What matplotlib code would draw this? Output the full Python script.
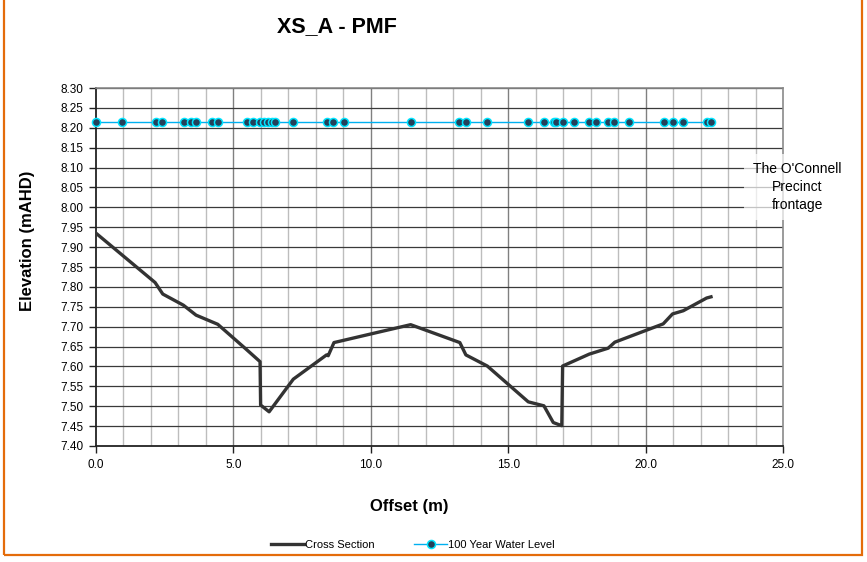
import numpy as np
import matplotlib
matplotlib.use("Agg")
import matplotlib.pyplot as plt
from matplotlib.patches import Rectangle

plt.rcParams['font.family'] = ['Liberation Sans', 'DejaVu Sans']

# cross section (offset m, elevation mAHD)
xs_offset = [0.0, 2.15, 2.43, 3.18, 3.64, 4.43, 5.42, 5.97, 5.99, 6.30, 7.18, 8.39, 8.45,
             8.66, 10.33, 11.45, 13.24, 13.46, 14.24, 15.73, 16.30, 16.64, 16.95, 16.98,
             17.95, 18.64, 18.88, 20.64, 20.98, 21.37, 22.22, 22.38]
xs_elev = [7.935, 7.811, 7.782, 7.754, 7.729, 7.706, 7.646, 7.612, 7.503, 7.486, 7.568,
           7.629, 7.627, 7.660, 7.687, 7.705, 7.660, 7.629, 7.601, 7.511, 7.501, 7.459,
           7.451, 7.601, 7.631, 7.646, 7.661, 7.707, 7.732, 7.740, 7.772, 7.775]

# water level points
wl_offset = [0.0, 0.93, 2.18, 2.39, 3.21, 3.44, 3.64, 4.23, 4.45, 5.48, 5.70, 5.97, 6.11,
             6.27, 6.39, 6.51, 7.18, 8.39, 8.63, 9.02, 11.45, 13.22, 13.46, 14.24, 15.73,
             16.31, 16.67, 16.74, 16.98, 17.41, 17.95, 18.20, 18.64, 18.86, 19.40, 20.68,
             20.98, 21.35, 22.22, 22.37]
wl_level = 8.215

W, H = 867, 562
fig = plt.figure(figsize=(W / 100, H / 100), dpi=100)

# orange chart frame
fig.patches.append(Rectangle((4 / W, 1 - 555 / H), 858 / W, 560 / H, transform=fig.transFigure,
                             fill=False, edgecolor='#E46C0A', linewidth=1.6, zorder=0))

ax = fig.add_axes([96 / W, 1 - 446 / H, 687 / W, 358 / H])

# grid
for xv in np.arange(1, 25, 1.0):
    c = '#808080' if xv % 5 == 0 else '#bdbdbd'
    ax.axvline(xv, color=c, linewidth=1.0, zorder=1)
for yv in np.arange(7.45, 8.30, 0.05):
    ax.axhline(yv, color='#3a3a3a', linewidth=0.9, zorder=1)

ax.plot(xs_offset, xs_elev, color='#333333', linewidth=2.4, zorder=4, label='Cross Section')
ax.plot(wl_offset, [wl_level] * len(wl_offset), color='#00B0F0', linewidth=1.0,
        marker='o', markersize=5.8, markerfacecolor='#24405a', markeredgecolor='#00E5FF',
        markeredgewidth=1.1, zorder=5, clip_on=False, label='100 Year Water Level')

ax.set_xlim(0, 25)
ax.set_ylim(7.40, 8.30)
ax.set_xticks(np.arange(0, 25.1, 5))
ax.set_xticklabels(['%.1f' % v for v in np.arange(0, 25.1, 5)])
ax.set_yticks(np.arange(7.40, 8.301, 0.05))
ax.set_yticklabels(['%.2f' % v for v in np.arange(7.40, 8.301, 0.05)])
ax.tick_params(axis='both', labelsize=8.5, direction='out', length=5, width=1, color='#222222', pad=4)

for s in ['top', 'right']:
    ax.spines[s].set_color('#8a8a8a')
    ax.spines[s].set_linewidth(1.2)
for s in ['left', 'bottom']:
    ax.spines[s].set_color('#222222')
    ax.spines[s].set_linewidth(1.3)

fig.text(337 / W, 1 - 27 / H, 'XS_A - PMF', fontsize=15.5, fontweight='bold', ha='center', va='center')
fig.text(28 / W, 1 - 241 / H, 'Elevation (mAHD)', fontsize=12, fontweight='bold', rotation=90,
         ha='center', va='center')
fig.text(409 / W, 1 - 507 / H, 'Offset (m)', fontsize=12, fontweight='bold', ha='center', va='center')

fig.text(797 / W, 1 - 187 / H, "The O'Connell\nPrecinct\nfrontage", fontsize=10, ha='center',
         va='center', linespacing=1.35, zorder=10,
         bbox=dict(boxstyle='square,pad=0.6', facecolor='white', edgecolor='none', alpha=0.7))

fig.legend(loc='center', bbox_to_anchor=(413 / W, 1 - 545 / H), ncol=2, frameon=False,
           fontsize=8, handlelength=3.0, columnspacing=3.5, handletextpad=0.1)

fig.savefig('out.png', dpi=100)
